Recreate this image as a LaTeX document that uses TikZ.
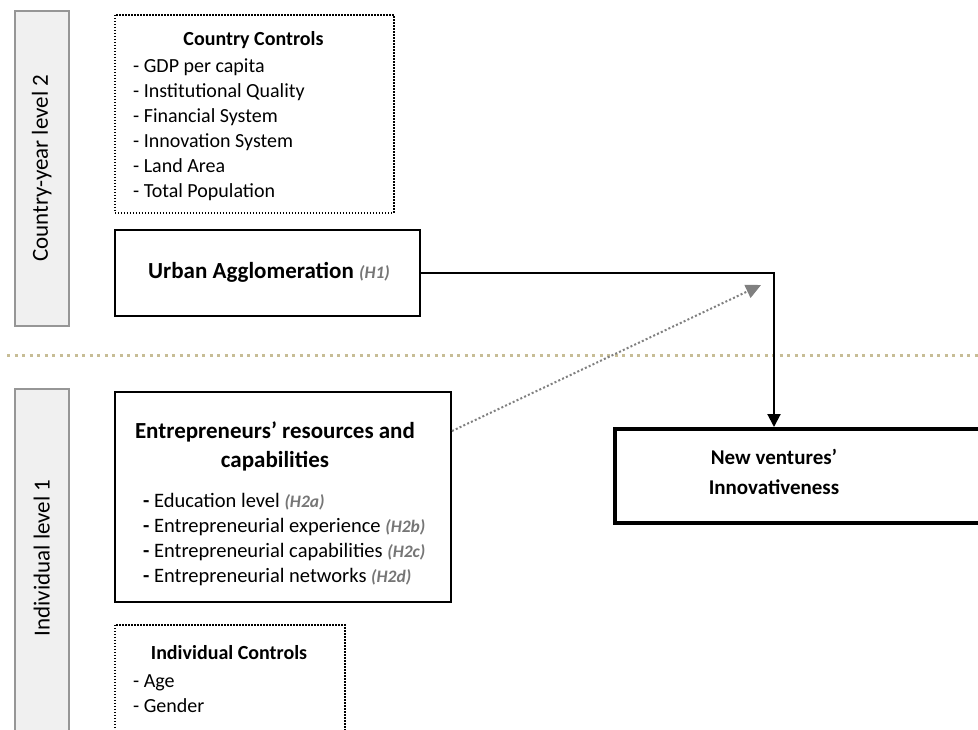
\documentclass[tikz,border=0pt]{standalone}
\usepackage{fontspec}
\setmainfont{Carlito}
\usetikzlibrary{arrows.meta,calc}
\definecolor{tanline}{RGB}{199,189,150}
\definecolor{bargray}{RGB}{240,240,240}
\definecolor{barline}{RGB}{150,150,150}
\definecolor{hypgray}{RGB}{118,118,118}
\definecolor{arrowgray}{RGB}{128,128,128}
\newcommand{\hypo}[1]{{\fontsize{17.5}{20}\selectfont\bfseries\itshape\color{hypgray}(#1)}}
\begin{document}
\begin{tikzpicture}[x=1pt,y=-1pt,
  levelbar/.style={draw=barline,fill=bargray,line width=1.5pt,anchor=north west,inner sep=0pt},
  leveltext/.style={rotate=90,font=\fontsize{23}{28}\selectfont,inner sep=0pt},
  ctrlbox/.style={draw=black,line width=1.5pt,dash pattern=on 1.5pt off 1.5pt,anchor=north west,inner sep=0pt},
  solidbox/.style={draw=black,line width=2pt,anchor=north west,inner sep=0pt},
  thickbox/.style={draw=black,line width=3.5pt,anchor=north west,inner sep=0pt},
  item/.style={font=\fontsize{20}{24}\selectfont,inner sep=0pt,anchor=base west},
  bigitem/.style={font=\fontsize{20.5}{24}\selectfont,inner sep=0pt,anchor=base west},
  ctrltitle/.style={font=\fontsize{20}{24}\selectfont\bfseries,inner sep=0pt,anchor=base},
  bigtitle/.style={font=\fontsize{23}{28}\selectfont\bfseries,inner sep=0pt,anchor=base},
  nvtitle/.style={font=\fontsize{21}{26}\selectfont\bfseries,inner sep=0pt,anchor=base},
  mainarrow/.style={line width=2pt,-{Triangle[length=13pt,width=13pt]}},
  moderarrow/.style={arrowgray,line width=2pt,dash pattern=on 2pt off 2.2pt,-{Triangle[length=15pt,width=14pt]}}
]
\clip (0,0) rectangle (978,729);
\fill[white] (0,0) rectangle (978,729);

% level bars
\node[levelbar,minimum width=54pt,minimum height=315pt] (lvltwo) at (14,10) {};
\node[leveltext] (lvltwot) at (lvltwo.center) {Country-year level 2};
\node[levelbar,minimum width=54pt,minimum height=360pt] (lvlone) at (14,388) {};
\node[leveltext] (lvlonet) at ($(lvlone.north)!0.47!(lvlone.south)$) {Individual level 1};

% separator
\draw[tanline,line width=3pt,dash pattern=on 3pt off 4.5pt] (7,355) coordinate (sepa) -- (978,355) coordinate (sepb);

% country controls
\node[ctrlbox,minimum width=279pt,minimum height=198pt] (cc) at (114,14) {};
\node[ctrltitle] (cct) at (253.5,45) {Country Controls};
\foreach \t [count=\i from 0] in {GDP per capita,Institutional Quality,Financial System,Innovation System,Land Area,Total Population}
  \node[item] (cc\i) at (133,72+25*\i) {- \t};

% urban agglomeration
\node[solidbox,minimum width=305pt,minimum height=86pt] (urban) at (114,229) {};
\node[inner sep=0pt,anchor=base west] (urbant) at (148,278) {\fontsize{23}{28}\selectfont\bfseries Urban Agglomeration \hypo{H1}};

% entrepreneurs
\node[solidbox,minimum width=336pt,minimum height=210pt] (ent) at (114,391) {};
\node[bigtitle] (entt1) at (275,438) {Entrepreneurs’ resources and};
\node[bigtitle] (entt2) at (275,467) {capabilities};
\node[bigitem] (ent1) at (143,507) {\textbf{-} Education level \hypo{H2a}};
\node[bigitem] (ent2) at (143,532) {\textbf{-} Entrepreneurial experience \hypo{H2b}};
\node[bigitem] (ent3) at (143,557) {\textbf{-} Entrepreneurial capabilities \hypo{H2c}};
\node[bigitem] (ent4) at (143,582) {\textbf{-} Entrepreneurial networks \hypo{H2d}};

% new ventures
\node[thickbox,minimum width=400pt,minimum height=94pt] (nv) at (613,427) {};
\node[nvtitle] (nvt1) at (774,464) {New ventures’};
\node[nvtitle] (nvt2) at (774,494) {Innovativeness};

% individual controls
\node[ctrlbox,minimum width=230pt,minimum height=200pt] (ic) at (114,624) {};
\node[ctrltitle] (ict) at (229,659) {Individual Controls};
\node[item] (ic1) at (133,687) {- Age};
\node[item] (ic2) at (133,712) {- Gender};

% connectors
\draw[mainarrow] (urban.east) -| (nvt1 |- nv.north);
\coordinate (modend) at (761,285);
\draw[moderarrow] ([yshift=-40pt]ent.north east) -- (modend);
\end{tikzpicture}
\end{document}
